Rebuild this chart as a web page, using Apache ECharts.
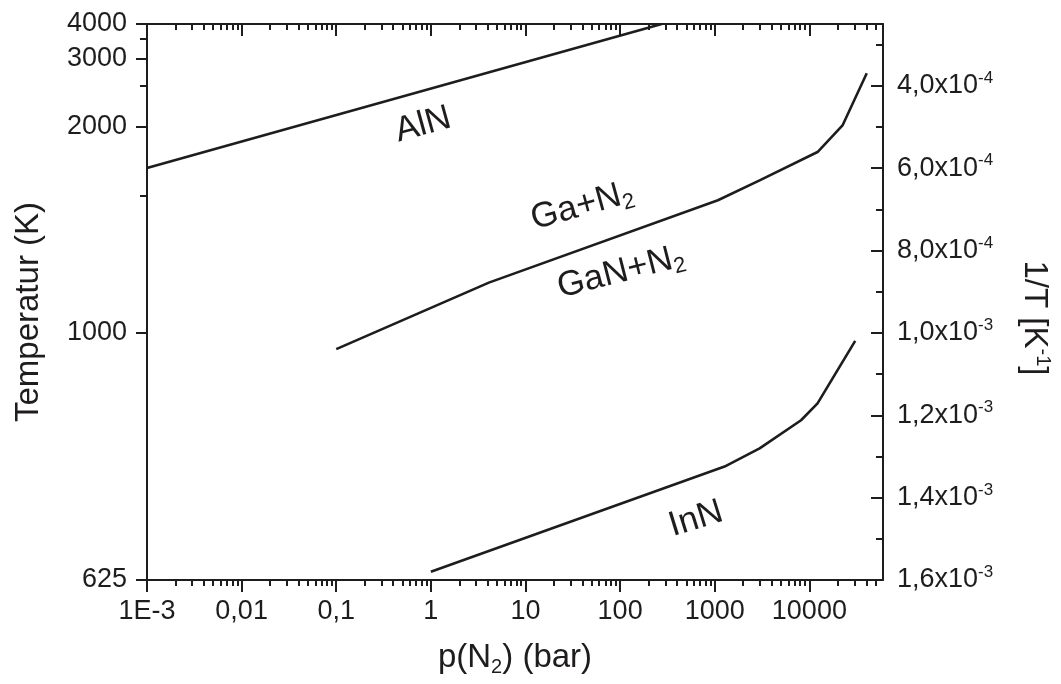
<!DOCTYPE html>
<html>
<head>
<meta charset="utf-8">
<script src="https://cdn.jsdelivr.net/npm/echarts@6/dist/echarts.min.js"></script>
<style>
  html, body { margin: 0; padding: 0; background: #ffffff; }
  #chart { width: 1061px; height: 684px; }
</style>
</head>
<body>
<div id="chart"></div>
<script>
// Pressure axis (bar, log scale)
const pMin = 0.001;
const pMax = 60000;
const xTickValues = [0.001, 0.01, 0.1, 1, 10, 100, 1000, 10000];
const xTickLabels = ['1E-3', '0,01', '0,1', '1', '10', '100', '1000', '10000'];
const xMinorValues = [
  0.002, 0.003, 0.004, 0.005, 0.006, 0.007, 0.008, 0.009,
  0.02, 0.03, 0.04, 0.05, 0.06, 0.07, 0.08, 0.09,
  0.2, 0.3, 0.4, 0.5, 0.6, 0.7, 0.8, 0.9,
  2, 3, 4, 5, 6, 7, 8, 9,
  20, 30, 40, 50, 60, 70, 80, 90,
  200, 300, 400, 500, 600, 700, 800, 900,
  2000, 3000, 4000, 5000, 6000, 7000, 8000, 9000,
  20000, 30000, 40000, 50000
];

// Temperature axis (K); plotted linear in 1/T
const tMax = 4000;
const tMin = 625;
const tTickValues = [4000, 3000, 2000, 1000, 625];
const tMinorValues = [3500, 2500, 1500];

// Reciprocal temperature axis (1/K)
const invTickValues = [4e-4, 6e-4, 8e-4, 1.0e-3, 1.2e-3, 1.4e-3, 1.6e-3];
const invTickMantissa = ['4,0', '6,0', '8,0', '1,0', '1,2', '1,4', '1,6'];
const invTickExponent = ['-4', '-4', '-4', '-3', '-3', '-3', '-3'];
const invMinorValues = [3e-4, 5e-4, 7e-4, 9e-4, 1.1e-3, 1.3e-3, 1.5e-3];

// Equilibrium curves: pressure (bar) and temperature (K)
const alnP = [0.001, 275];
const alnT = [1667, 4000];

const ganP = [0.1, 4.1, 1080, 2980, 12200, 22400, 40400];
const ganT = [962, 1139, 1475, 1588, 1783, 2015, 2707];

const innP = [1, 1270, 2980, 8170, 12200, 30500];
const innT = [633, 755, 781, 825, 854, 981];

const INK = '#1f1c1d';
const FONT = 'Liberation Sans, Arial, Helvetica, sans-serif';

const toPairs = (ps, ts) => ps.map((p, i) => [p, 1 / ts[i]]);

const yMin = 1 / tMax;
const yMax = 1 / tMin;

function nearestIndex(arr, v) {
  let best = 0;
  for (let i = 1; i < arr.length; i++) {
    if (Math.abs(arr[i] - v) < Math.abs(arr[best] - v)) best = i;
  }
  return best;
}

const baseX = {
  type: 'log', logBase: 10, min: pMin, max: pMax,
  splitLine: { show: false }, minorTick: { show: false }, minorSplitLine: { show: false },
  axisLine: { show: false, onZero: false }
};
const baseY = {
  type: 'value', inverse: true, min: yMin, max: yMax,
  splitLine: { show: false }, minorTick: { show: false },
  axisLine: { show: false, onZero: false }
};

const chart = echarts.init(document.getElementById('chart'), null, { renderer: 'canvas' });

const lineStyle = { color: INK, width: 2.6 };
const tickFont = 27;
const titleFont = 33;
const curveFont = 35;

const option = {
  backgroundColor: '#ffffff',
  animation: false,
  textStyle: { fontFamily: FONT, color: INK },
  grid: { left: 147, right: 175, top: 24, bottom: 104, containLabel: false, show: false },
  xAxis: [
    Object.assign({}, baseX, {
      position: 'bottom',
      name: '{t|p(N}{s|2}{t|) (bar)}',
      nameLocation: 'middle',
      nameGap: 59,
      nameTextStyle: {
        rich: {
          t: { fontSize: titleFont, fontFamily: FONT, color: INK, lineHeight: 38 },
          s: { fontSize: 20, fontFamily: FONT, color: INK, verticalAlign: 'bottom', lineHeight: 20 }
        }
      },
      axisLine: { show: true, onZero: false, lineStyle: { color: INK, width: 2 } },
      axisTick: { show: true, inside: false, length: 12, customValues: xTickValues, lineStyle: { color: INK, width: 2 } },
      axisLabel: {
        show: true, margin: 18, customValues: xTickValues,
        fontSize: tickFont, fontFamily: FONT, color: INK,
        formatter: v => xTickLabels[nearestIndex(xTickValues.map(Math.log10), Math.log10(v))]
      }
    }),
    Object.assign({}, baseX, {
      position: 'bottom',
      axisTick: { show: true, inside: false, length: 6, customValues: xMinorValues, lineStyle: { color: INK, width: 2 } },
      axisLabel: { show: false }
    }),
    Object.assign({}, baseX, {
      position: 'top',
      axisLine: { show: true, onZero: false, lineStyle: { color: INK, width: 2 } },
      axisTick: { show: true, inside: true, length: 12, customValues: xTickValues, lineStyle: { color: INK, width: 2 } },
      axisLabel: { show: false }
    }),
    Object.assign({}, baseX, {
      position: 'top',
      axisTick: { show: true, inside: true, length: 6, customValues: xMinorValues, lineStyle: { color: INK, width: 2 } },
      axisLabel: { show: false }
    })
  ],
  yAxis: [
    Object.assign({}, baseY, {
      position: 'left',
      name: 'Temperatur (K)',
      nameLocation: 'middle',
      nameRotate: 90,
      nameGap: 99,
      nameTextStyle: { fontSize: titleFont, fontFamily: FONT, color: INK, lineHeight: 38, padding: [0, 20, 0, 0] },
      axisLine: { show: true, onZero: false, lineStyle: { color: INK, width: 2 } },
      axisTick: { show: true, inside: false, length: 11, customValues: tTickValues.map(t => 1 / t), lineStyle: { color: INK, width: 2 } },
      axisLabel: {
        show: true, margin: 20, customValues: tTickValues.map(t => 1 / t),
        fontSize: tickFont, fontFamily: FONT, color: INK,
        formatter: v => String(tTickValues[nearestIndex(tTickValues, 1 / v)])
      }
    }),
    Object.assign({}, baseY, {
      position: 'left',
      axisTick: { show: true, inside: false, length: 7, customValues: tMinorValues.map(t => 1 / t), lineStyle: { color: INK, width: 2 } },
      axisLabel: { show: false }
    }),
    Object.assign({}, baseY, {
      position: 'right',
      name: '{t|1/T [K}{s|-1}{t|]}',
      nameLocation: 'middle',
      nameRotate: -90,
      nameGap: 132,
      nameTextStyle: {
        padding: [0, 0, 0, 32],
        rich: {
          t: { fontSize: titleFont, fontFamily: FONT, color: INK, lineHeight: 38 },
          s: { fontSize: 20, fontFamily: FONT, color: INK, verticalAlign: 'top', lineHeight: 20 }
        }
      },
      axisLine: { show: true, onZero: false, lineStyle: { color: INK, width: 2 } },
      axisTick: { show: true, inside: true, length: 12, customValues: invTickValues, lineStyle: { color: INK, width: 2 } },
      axisLabel: {
        show: true, margin: 14, customValues: invTickValues,
        formatter: v => {
          const i = nearestIndex(invTickValues, v);
          return '{m|' + invTickMantissa[i] + 'x10}{e|' + invTickExponent[i] + '}';
        },
        rich: {
          m: { fontSize: tickFont, fontFamily: FONT, color: INK, lineHeight: 32 },
          e: { fontSize: 17, fontFamily: FONT, color: INK, verticalAlign: 'top', lineHeight: 17 }
        }
      }
    }),
    Object.assign({}, baseY, {
      position: 'right',
      axisTick: { show: true, inside: true, length: 7, customValues: invMinorValues, lineStyle: { color: INK, width: 2 } },
      axisLabel: { show: false }
    })
  ],
  series: [
    { name: 'AlN', type: 'line', xAxisIndex: 0, yAxisIndex: 0, data: toPairs(alnP, alnT),
      showSymbol: false, symbol: 'none', lineStyle: lineStyle, clip: true },
    { name: 'GaN', type: 'line', xAxisIndex: 0, yAxisIndex: 0, data: toPairs(ganP, ganT),
      showSymbol: false, symbol: 'none', lineStyle: lineStyle, clip: true },
    { name: 'InN', type: 'line', xAxisIndex: 0, yAxisIndex: 0, data: toPairs(innP, innT),
      showSymbol: false, symbol: 'none', lineStyle: lineStyle, clip: true }
  ],
  graphic: [
    { type: 'text', x: 423, y: 125, rotation: 0.27,
      style: { text: 'AlN', fontSize: curveFont, fontFamily: FONT, fill: INK, align: 'center', verticalAlign: 'middle' } },
    { type: 'text', x: 582, y: 206, rotation: 0.27,
      style: { text: '{t|Ga+N}{s|2}', align: 'center', verticalAlign: 'middle',
        rich: {
          t: { fontSize: curveFont, fontFamily: FONT, fill: INK, lineHeight: 40 },
          s: { fontSize: 22, fontFamily: FONT, fill: INK, verticalAlign: 'bottom', lineHeight: 20 }
        } } },
    { type: 'text', x: 621, y: 272, rotation: 0.25,
      style: { text: '{t|GaN+N}{s|2}', align: 'center', verticalAlign: 'middle',
        rich: {
          t: { fontSize: curveFont, fontFamily: FONT, fill: INK, lineHeight: 40 },
          s: { fontSize: 22, fontFamily: FONT, fill: INK, verticalAlign: 'bottom', lineHeight: 20 }
        } } },
    { type: 'text', x: 696, y: 519, rotation: 0.3,
      style: { text: 'InN', fontSize: curveFont, fontFamily: FONT, fill: INK, align: 'center', verticalAlign: 'middle' } }
  ]
};

chart.setOption(option);
</script>
</body>
</html>
